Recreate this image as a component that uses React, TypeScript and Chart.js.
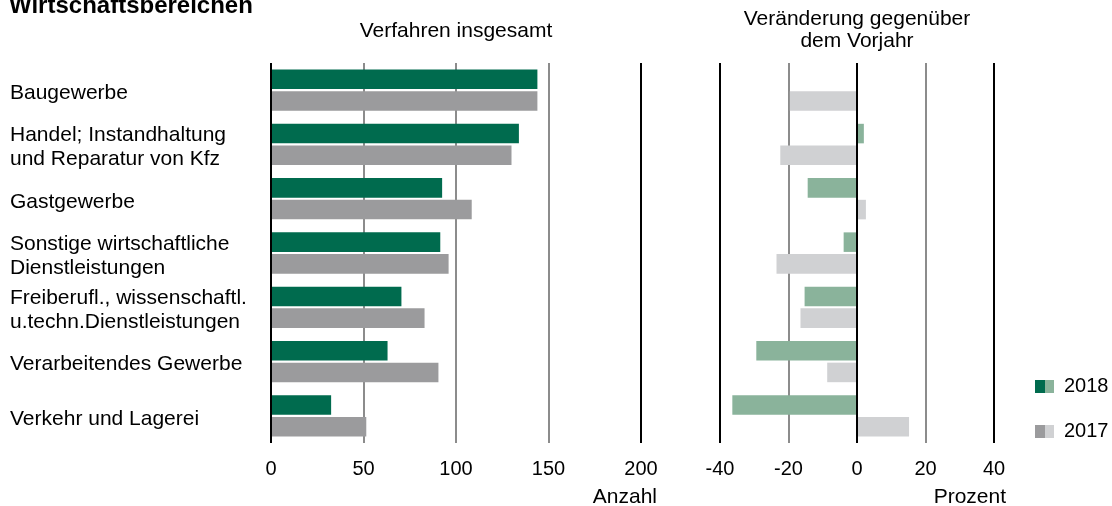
import React, { useEffect, useRef } from 'react';
import { Chart, registerables } from 'chart.js';

Chart.register(...registerables);

const categories: (string | string[])[] = [
  'Baugewerbe',
  ['Handel; Instandhaltung', 'und Reparatur von Kfz'],
  'Gastgewerbe',
  ['Sonstige wirtschaftliche', 'Dienstleistungen'],
  ['Freiberufl., wissenschaftl.', 'u.techn.Dienstleistungen'],
  'Verarbeitendes Gewerbe',
  'Verkehr und Lagerei',
];
const seriesLabels = ['2018', '2017'];
const count2018 = [144, 134, 92.5, 91.5, 70.5, 63, 32.5];
const count2017 = [144, 130, 108.5, 96, 83, 90.5, 51.5];
const change2018 = [0, 2.0, -14.4, -3.9, -15.3, -29.4, -36.4];
const change2017 = [-19.6, -22.4, 2.6, -23.5, -16.5, -8.7, 15.2];
const countTicks = [0, 50, 100, 150, 200];
const changeTicks = [-40, -20, 0, 20, 40];
const blackLinesCount = [0, 200];
const blackLinesChange = [-40, 0, 40];

const titleText = 'Wirtschaftsbereichen';
const leftHeading = 'Verfahren insgesamt';
const rightHeading = ['Veränderung gegenüber', 'dem Vorjahr'];
const leftUnit = 'Anzahl';
const rightUnit = 'Prozent';

const DARK_GREEN = '#006b4e';
const LIGHT_GREEN = '#8ab39b';
const DARK_GRAY = '#9b9b9d';
const LIGHT_GRAY = '#d0d1d3';
const GRID_GRAY = '#8c8c8c';
const FONT = '"Liberation Sans", Arial, Helvetica, sans-serif';

const W = 1112;
const H = 506;
const LEFT_W = 700;
const RIGHT_W = W - LEFT_W;
const PLOT_TOP = 63;
const PLOT_BOTTOM = 443;

export default function App() {
  const leftRef = useRef<HTMLCanvasElement | null>(null);
  const rightRef = useRef<HTMLCanvasElement | null>(null);

  useEffect(() => {
    if (!leftRef.current || !rightRef.current) return;

    const leftText = {
      id: 'leftText',
      afterDraw(chart: any) {
        const ctx = chart.ctx as CanvasRenderingContext2D;
        const area = chart.chartArea;
        ctx.save();
        ctx.fillStyle = '#000';
        ctx.textBaseline = 'alphabetic';
        ctx.font = `bold 24px ${FONT}`;
        ctx.textAlign = 'left';
        ctx.fillText(titleText, 9, 13);
        ctx.font = `21px ${FONT}`;
        ctx.textAlign = 'center';
        ctx.fillText(leftHeading, (area.left + area.right) / 2, 37);
        ctx.textAlign = 'right';
        ctx.fillText(leftUnit, area.right + 16, 503);
        ctx.restore();
      },
    };

    const rightText = {
      id: 'rightText',
      afterDraw(chart: any) {
        const ctx = chart.ctx as CanvasRenderingContext2D;
        const area = chart.chartArea;
        ctx.save();
        ctx.fillStyle = '#000';
        ctx.textBaseline = 'alphabetic';
        ctx.font = `21px ${FONT}`;
        ctx.textAlign = 'center';
        const cx = (area.left + area.right) / 2;
        ctx.fillText(rightHeading[0], cx, 25);
        ctx.fillText(rightHeading[1], cx, 47);
        ctx.textAlign = 'right';
        ctx.fillText(rightUnit, area.right + 12, 503);
        // legend
        const legendItems = [
          { label: seriesLabels[0], dark: DARK_GREEN, light: LIGHT_GREEN, base: 392 },
          { label: seriesLabels[1], dark: DARK_GRAY, light: LIGHT_GRAY, base: 437 },
        ];
        const bx = 1035 - LEFT_W;
        legendItems.forEach((it) => {
          ctx.fillStyle = it.dark;
          ctx.fillRect(bx, it.base - 12, 10, 13);
          ctx.fillStyle = it.light;
          ctx.fillRect(bx + 10, it.base - 12, 9, 13);
          ctx.fillStyle = '#000';
          ctx.textAlign = 'left';
          ctx.font = `20px ${FONT}`;
          ctx.fillText(it.label, 1064 - LEFT_W, it.base);
        });
        ctx.restore();
      },
    };

    const common = {
      indexAxis: 'y' as const,
      responsive: false,
      animation: false as const,
      devicePixelRatio: 1,
      events: [],
      plugins: {
        legend: { display: false },
        tooltip: { enabled: false },
        title: { display: false },
      },
    };

    const fitX = (s: any) => {
      s.height = H - PLOT_BOTTOM;
      s.paddingLeft = 0;
      s.paddingRight = 0;
    };

    const left = new Chart(leftRef.current, {
      type: 'bar',
      data: {
        labels: categories,
        datasets: [
          {
            label: seriesLabels[0],
            data: count2018,
            backgroundColor: DARK_GREEN,
            categoryPercentage: 0.8,
            barPercentage: 0.9,
          },
          {
            label: seriesLabels[1],
            data: count2017,
            backgroundColor: DARK_GRAY,
            categoryPercentage: 0.8,
            barPercentage: 0.9,
          },
        ],
      },
      options: {
        ...common,
        layout: { padding: { left: 10, right: LEFT_W - 641, top: PLOT_TOP, bottom: 0 } },
        scales: {
          x: {
            type: 'linear',
            position: 'bottom',
            min: countTicks[0],
            max: countTicks[countTicks.length - 1],
            afterBuildTicks: (s: any) => {
              s.ticks = countTicks.map((v) => ({ value: v }));
            },
            afterFit: fitX,
            grid: {
              drawTicks: false,
              lineWidth: 2,
              color: (c: any) =>
                c.tick && blackLinesCount.includes(c.tick.value) ? '#000' : GRID_GRAY,
            },
            border: { display: false },
            ticks: {
              padding: 14,
              color: '#000',
              maxRotation: 0,
              font: { family: FONT, size: 20 },
            },
          },
          y: {
            type: 'category',
            position: 'left',
            afterFit: (s: any) => {
              s.width = 261;
            },
            grid: { display: false },
            border: { display: false },
            ticks: {
              crossAlign: 'far',
              padding: 0,
              labelOffset: 3,
              color: '#000',
              font: { family: FONT, size: 21, lineHeight: 1.12 },
            },
          },
        },
      } as any,
      plugins: [leftText],
    });

    const right = new Chart(rightRef.current, {
      type: 'bar',
      data: {
        labels: categories,
        datasets: [
          {
            label: seriesLabels[0],
            data: change2018,
            backgroundColor: LIGHT_GREEN,
            categoryPercentage: 0.8,
            barPercentage: 0.9,
          },
          {
            label: seriesLabels[1],
            data: change2017,
            backgroundColor: LIGHT_GRAY,
            categoryPercentage: 0.8,
            barPercentage: 0.9,
          },
        ],
      },
      options: {
        ...common,
        layout: { padding: { left: 720 - LEFT_W, right: W - 994, top: PLOT_TOP, bottom: 0 } },
        scales: {
          x: {
            type: 'linear',
            position: 'bottom',
            min: changeTicks[0],
            max: changeTicks[changeTicks.length - 1],
            afterBuildTicks: (s: any) => {
              s.ticks = changeTicks.map((v) => ({ value: v }));
            },
            afterFit: fitX,
            grid: {
              drawTicks: false,
              lineWidth: 2,
              color: (c: any) =>
                c.tick && blackLinesChange.includes(c.tick.value) ? '#000' : GRID_GRAY,
            },
            border: { display: false },
            ticks: {
              padding: 14,
              color: '#000',
              maxRotation: 0,
              font: { family: FONT, size: 20 },
            },
          },
          y: {
            type: 'category',
            display: false,
          },
        },
      } as any,
      plugins: [rightText],
    });

    return () => {
      left.destroy();
      right.destroy();
    };
  }, []);

  return (
    <div style={{ position: 'absolute', left: 0, top: 0, width: W, height: H, background: '#fff', overflow: 'hidden' }}>
      <canvas
        ref={leftRef}
        width={LEFT_W}
        height={H}
        style={{ position: 'absolute', left: 0, top: 0, width: LEFT_W, height: H }}
      />
      <canvas
        ref={rightRef}
        width={RIGHT_W}
        height={H}
        style={{ position: 'absolute', left: LEFT_W, top: 0, width: RIGHT_W, height: H }}
      />
    </div>
  );
}
